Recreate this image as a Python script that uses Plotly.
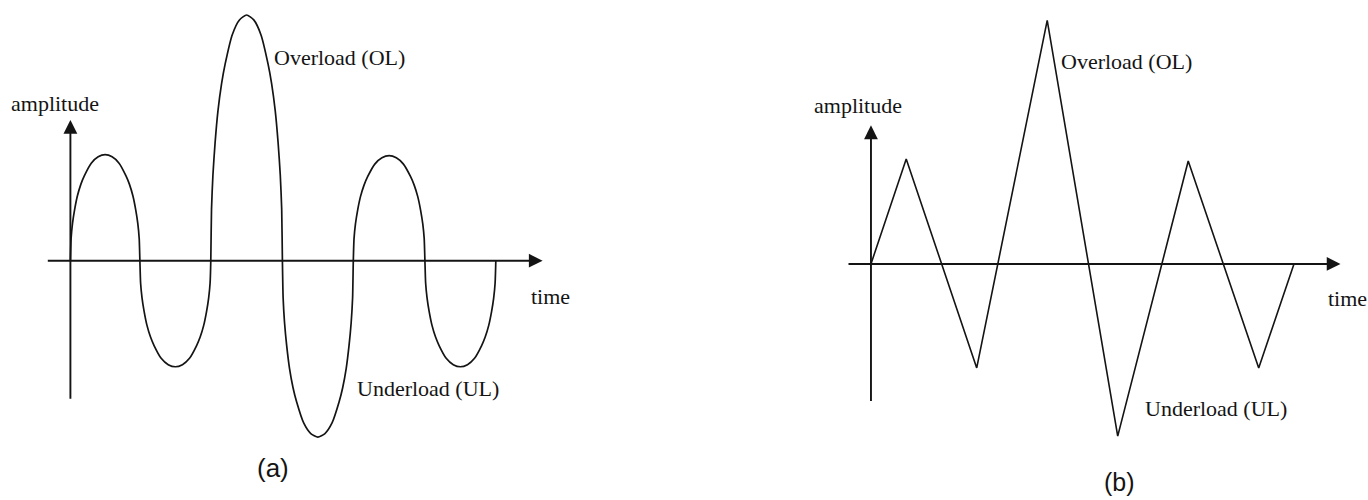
import plotly.graph_objects as go

# ---- data -------------------------------------------------------------
# (a) smooth load history: zero crossings (in half-cycle units) and the
#     extreme value reached in each half-cycle between two crossings
sine_crossings = [0.0, 0.98, 1.98, 2.99, 3.99, 5.0, 6.0]
sine_extremes = [1.01, -1.01, 2.34, -1.68, 1.0, -1.01]

# shape of one half-cycle arch: position within the half-cycle -> share of the extreme
arch_position = [0.0, 0.01, 0.03, 0.06, 0.10, 0.15, 0.20, 0.30, 0.40, 0.50,
                 0.60, 0.70, 0.80, 0.85, 0.90, 0.94, 0.97, 0.99, 1.0]
arch_level = [0.0, 0.21, 0.35, 0.48, 0.61, 0.72, 0.80, 0.92, 0.98, 1.0,
              0.98, 0.92, 0.80, 0.72, 0.61, 0.48, 0.35, 0.21, 0.0]

# (b) triangular load history: turning points
tri_time = [0.0, 0.5, 1.5, 2.5, 3.5, 4.5, 5.5, 6.0]
tri_value = [0.0, 1.0, -0.99, 2.32, -1.64, 0.98, -0.99, 0.0]

# labels
y_label = "amplitude"
x_label = "time"
peak_label = "Overload (OL)"
valley_label = "Underload (UL)"
panel_labels = ["(a)", "(b)"]

# ---- build the smooth curve from the arches --------------------------
sine_t, sine_v = [], []
for k, amp in enumerate(sine_extremes):
    t0, t1 = sine_crossings[k], sine_crossings[k + 1]
    for j, (p, lv) in enumerate(zip(arch_position, arch_level)):
        if k > 0 and j == 0:
            continue
        sine_t.append(t0 + p * (t1 - t0))
        sine_v.append(amp * lv)

INK = "#141414"
SERIF = "Liberation Serif, Times New Roman, serif"
SANS = "Liberation Sans, Arial, sans-serif"

fig = go.Figure()
fig.add_trace(go.Scatter(x=sine_t, y=sine_v, mode="lines",
                         line=dict(color=INK, width=1.7, shape="spline", smoothing=0.6),
                         xaxis="x", yaxis="y", hoverinfo="skip"))
fig.add_trace(go.Scatter(x=tri_time, y=tri_value, mode="lines",
                         line=dict(color=INK, width=1.6),
                         xaxis="x2", yaxis="y2", hoverinfo="skip"))

annotations = []


def add_axes(xr, yr, x_from, x_to, y_from, y_to):
    # horizontal and vertical axis drawn as arrows
    for (tx, ty, hx, hy) in [(x_from, 0, x_to, 0), (0, y_from, 0, y_to)]:
        annotations.append(dict(x=hx, y=hy, ax=tx, ay=ty, xref=xr, yref=yr,
                                axref=xr, ayref=yr, text="", showarrow=True,
                                arrowhead=2, arrowsize=1.45, arrowwidth=1.9,
                                arrowcolor=INK, standoff=0))


def add_text(xr, yr, x, y, text, font, size, xanchor="left"):
    annotations.append(dict(x=x, y=y, xref=xr, yref=yr, text=text, showarrow=False,
                            xanchor=xanchor, yanchor="middle",
                            font=dict(family=font, size=size, color=INK)))


# panel (a)
add_axes("x", "y", -0.34, 6.66, -1.33, 1.34)
add_text("x", "y", -0.86, 1.50, y_label, SERIF, 22)
add_text("x", "y", 2.84, 1.94, peak_label, SERIF, 22)
add_text("x", "y", 6.47, -0.34, x_label, SERIF, 22)
add_text("x", "y", 4.01, -1.22, valley_label, SERIF, 22)
add_text("x", "y", 2.86, -1.97, panel_labels[0], SANS, 26, xanchor="center")

# panel (b)
add_axes("x2", "y2", -0.34, 6.66, -1.32, 1.32)
add_text("x2", "y2", -0.84, 1.51, y_label, SERIF, 22)
add_text("x2", "y2", 2.67, 1.93, peak_label, SERIF, 22)
add_text("x2", "y2", 6.46, -0.33, x_label, SERIF, 22)
add_text("x2", "y2", 3.86, -1.38, valley_label, SERIF, 22)
add_text("x2", "y2", 3.52, -2.08, panel_labels[1], SANS, 25, xanchor="center")

hidden = dict(visible=False, showgrid=False, zeroline=False, fixedrange=True)
fig.update_layout(
    width=1368, height=500,
    margin=dict(l=0, r=0, t=0, b=0),
    paper_bgcolor="white", plot_bgcolor="white",
    showlegend=False,
    xaxis=dict(domain=[0, 0.5], range=[-0.993, 8.654], **hidden),
    yaxis=dict(domain=[0, 1], range=[-2.279, 2.483], **hidden),
    xaxis2=dict(domain=[0.5, 1], range=[-2.652, 7.05], **hidden),
    yaxis2=dict(domain=[0, 1], range=[-2.248, 2.514], anchor="x2", **hidden),
    annotations=annotations,
)

fig.write_html("out.html")
